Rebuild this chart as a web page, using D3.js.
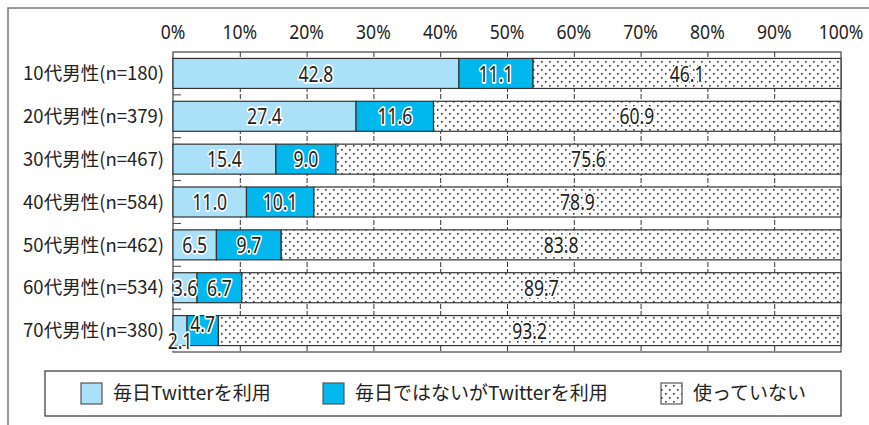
<!DOCTYPE html>
<html>
<head>
<meta charset="utf-8">
<script src="https://cdn.jsdelivr.net/npm/d3@7"></script>
<style>
  body { margin: 0; background: #fff; }
  .num { font-family: "Noto Sans", sans-serif; }
  .jp { font-family: "Noto Sans CJK JP", sans-serif; }
</style>
</head>
<body>
<div id="chart"></div>
<script>
var categories = ["10代男性(n=180)", "20代男性(n=379)", "30代男性(n=467)", "40代男性(n=584)",
                  "50代男性(n=462)", "60代男性(n=534)", "70代男性(n=380)"];
var daily    = [42.8, 27.4, 15.4, 11.0, 6.5, 3.6, 2.1];
var notDaily = [11.1, 11.6, 9.0, 10.1, 9.7, 6.7, 4.7];
var notUsed  = [46.1, 60.9, 75.6, 78.9, 83.8, 89.7, 93.2];
var seriesNames = ["毎日Twitterを利用", "毎日ではないがTwitterを利用", "使っていない"];
var tickValues = [0, 10, 20, 30, 40, 50, 60, 70, 80, 90, 100];

var W = 869, H = 425;
// plot box (note: "top" is a reserved window property, so use p*)
var pLeft = 173, pRight = 841, pTop = 52, pBottom = 352;

var svg = d3.select("#chart").append("svg")
  .attr("width", W).attr("height", H);

// dot pattern
var defs = svg.append("defs");
var pat = defs.append("pattern").attr("id", "dots")
  .attr("patternUnits", "userSpaceOnUse").attr("width", 8).attr("height", 8);
pat.append("rect").attr("width", 8).attr("height", 8).attr("fill", "#fff");
pat.append("rect").attr("x", 1).attr("y", 1).attr("width", 1.6).attr("height", 1.6).attr("fill", "#333");
pat.append("rect").attr("x", 5).attr("y", 5).attr("width", 1.6).attr("height", 1.6).attr("fill", "#333");

var colors = ["#abe0f9", "#00b8ee", "url(#dots)"];

// outer frame
svg.append("path").attr("d", "M8," + H + "V8H" + W)
  .attr("fill", "none").attr("stroke", "#777").attr("stroke-width", 1.5);

var x = d3.scaleLinear().domain([0, 100]).range([pLeft, pRight]);
var y = d3.scaleBand().domain(categories).range([pTop, pBottom])
  .paddingInner(0.3).paddingOuter(0.15);

// dashed grid
svg.append("g").selectAll("line").data(tickValues.slice(1, -1)).enter().append("line")
  .attr("x1", function(d){ return x(d); }).attr("x2", function(d){ return x(d); })
  .attr("y1", pTop).attr("y2", pBottom)
  .attr("stroke", "#333").attr("stroke-width", 1).attr("stroke-dasharray", "5,2")
  .attr("transform", "translate(0.5,0)");

// top tick labels (narrowed a bit, the original face is condensed)
svg.append("g").selectAll("text").data(tickValues).enter().append("text")
  .attr("class", "num")
  .attr("transform", function(d){ return "translate(" + x(d) + "," + (pTop - 20) + ") scale(0.9,1)"; })
  .attr("dy", "0.36em").attr("text-anchor", "middle")
  .attr("font-size", 19.5).attr("fill", "#222")
  .text(function(d){ return d + "%"; });

// frame lines
svg.append("rect").attr("x", pLeft).attr("y", pTop).attr("width", pRight - pLeft).attr("height", pBottom - pTop)
  .attr("fill", "none").attr("stroke", "#444").attr("stroke-width", 1.2);

// left category ticks
svg.append("g").selectAll("line").data(d3.range(1, categories.length)).enter().append("line")
  .attr("x1", pLeft).attr("x2", pLeft + 8)
  .attr("y1", function(i){ return pTop + i * (pBottom - pTop) / categories.length; })
  .attr("y2", function(i){ return pTop + i * (pBottom - pTop) / categories.length; })
  .attr("stroke", "#444");

// stacked data
var rows = categories.map(function(c, i) {
  return { cat: c, vals: [daily[i], notDaily[i], notUsed[i]] };
});

var barG = svg.append("g");
rows.forEach(function(r, i) {
  var x0 = 0;
  r.vals.forEach(function(v, j) {
    barG.append("rect")
      .attr("x", x(x0)).attr("y", y(r.cat))
      .attr("width", x(x0 + v) - x(x0)).attr("height", y.bandwidth())
      .attr("fill", colors[j]).attr("stroke", "#333").attr("stroke-width", 1.2);
    x0 += v;
  });
});

// value labels
rows.forEach(function(r, i) {
  var x0 = 0;
  r.vals.forEach(function(v, j) {
    var cx = x(x0 + v / 2);
    var cy = y(r.cat) + y.bandwidth() / 2;
    if (i === 6 && j === 0) cy += 10;
    if (i === 6 && j === 1) cy -= 7;
    svg.append("text").attr("class", "num")
      .attr("transform", "translate(" + cx + "," + cy + ") scale(0.78,1)")
      .attr("dy", "0.36em")
      .attr("text-anchor", "middle").attr("font-size", 22.5)
      .attr("fill", "#222").attr("stroke", "#fff").attr("stroke-width", 3.5)
      .attr("paint-order", "stroke").attr("stroke-linejoin", "round")
      .text(v.toFixed(1));
    x0 += v;
  });
});

// category labels
svg.append("g").selectAll("text").data(categories).enter().append("text")
  .attr("class", "jp").attr("x", pLeft - 9)
  .attr("y", function(d){ return y(d) + y.bandwidth() / 2; }).attr("dy", "0.36em")
  .attr("text-anchor", "end").attr("font-size", 18.5).attr("fill", "#222")
  .text(function(d){ return d; });

// legend
svg.append("rect").attr("x", 45).attr("y", 371).attr("width", 796).attr("height", 45)
  .attr("fill", "#fff").attr("stroke", "#333").attr("stroke-width", 1.2);
var legX = [81, 323, 661];
seriesNames.forEach(function(n, j) {
  svg.append("rect").attr("x", legX[j]).attr("y", 383).attr("width", 21).attr("height", 21)
    .attr("fill", colors[j]).attr("stroke", "#555").attr("stroke-width", 1.2);
  svg.append("text").attr("class", "jp").attr("x", legX[j] + 32).attr("y", 393.5).attr("dy", "0.36em")
    .attr("font-size", 19).attr("fill", "#222").text(n);
});
</script>
</body>
</html>
